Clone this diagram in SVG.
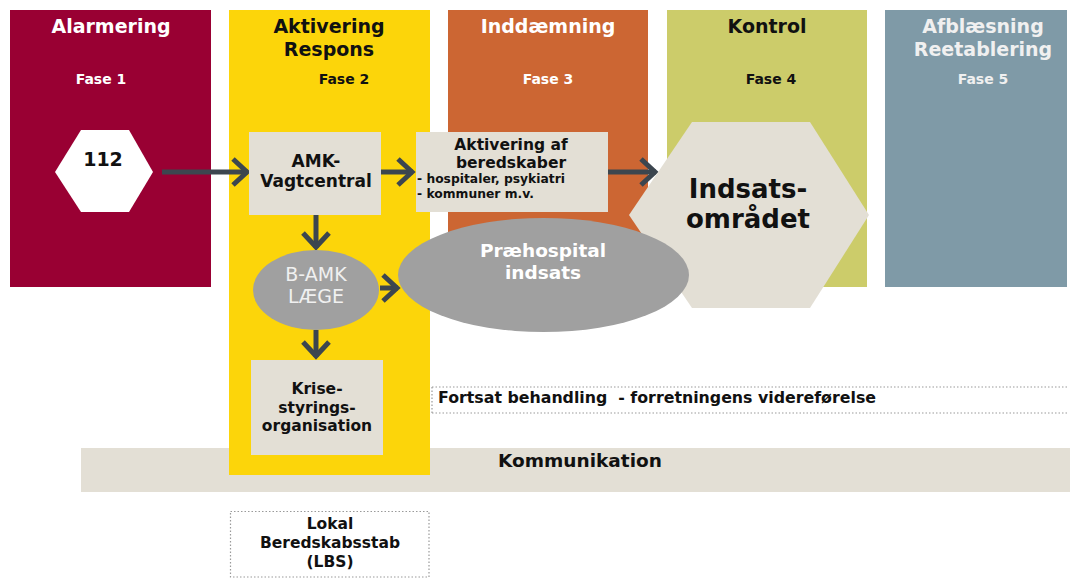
<svg xmlns="http://www.w3.org/2000/svg" width="1070" height="579" viewBox="0 0 1070 579">
  <defs>
    <style>
      text { font-family: "DejaVu Sans", Verdana, sans-serif; text-anchor: middle; }
      .b { font-weight: bold; }
      .w { fill: #ffffff; }
      .k { fill: #111111; }
      .lt { fill: #f0f0f0; }
      .box { fill: #e3dfd5; }
      .oval { fill: #a0a0a0; }
      .conn { stroke: #3c464f; stroke-width: 5; fill: none; marker-end: url(#chev); }
      .dot { stroke: #9a9a9a; stroke-width: 1.2; stroke-dasharray: 1.5 2; fill: none; }
    </style>
    <marker id="chev" markerUnits="userSpaceOnUse" markerWidth="26" markerHeight="34" refX="21" refY="17" orient="auto" viewBox="0 0 26 34">
      <path d="M6,4 L20,17 L6,30" fill="none" stroke="#3c464f" stroke-width="5"/>
    </marker>
  </defs>

  <!-- communication band behind the phase columns -->
  <g id="kommunikation">
    <rect x="81" y="448" width="989" height="44" class="box"/>
    <text x="580" y="467" class="b k" font-size="18.5">Kommunikation</text>
  </g>

  <!-- phase columns -->
  <g id="fase1">
    <rect x="10" y="10" width="201" height="277" fill="#990033"/>
    <text x="111" y="33" class="b w" font-size="19">Alarmering</text>
    <text x="101" y="84" class="b w" font-size="14">Fase 1</text>
  </g>
  <g id="fase2">
    <rect x="229" y="10" width="201" height="465" fill="#fcd50a"/>
    <text x="329" y="33" class="b k" font-size="19">Aktivering</text>
    <text x="329" y="56" class="b k" font-size="19">Respons</text>
    <text x="344" y="84" class="b k" font-size="14">Fase 2</text>
  </g>
  <g id="fase3">
    <rect x="448" y="10" width="200" height="277" fill="#cc6633"/>
    <text x="548" y="33" class="b w" font-size="19">Inddæmning</text>
    <text x="548" y="84" class="b w" font-size="14">Fase 3</text>
  </g>
  <g id="fase4">
    <rect x="667" y="10" width="200" height="277" fill="#cccc6a"/>
    <text x="767" y="33" class="b k" font-size="19">Kontrol</text>
    <text x="771" y="84" class="b k" font-size="14">Fase 4</text>
  </g>
  <g id="fase5">
    <rect x="885" y="10" width="182" height="277" fill="#7f9aa7"/>
    <text x="983" y="33" class="b lt" font-size="19">Afblæsning</text>
    <text x="983" y="56" class="b lt" font-size="19">Reetablering</text>
    <text x="983" y="84" class="b lt" font-size="14">Fase 5</text>
  </g>

  <!-- continued treatment strip -->
  <g id="fortsat">
    <path d="M432,387 H1068 M432,413 H1068 M432,387 V413" class="dot"/>
    <text x="438" y="403" class="b k" font-size="15.5" style="text-anchor:start; white-space:pre" textLength="438" lengthAdjust="spacingAndGlyphs">Fortsat behandling  - forretningens videreførelse</text>
  </g>

  <!-- connectors -->
  <g id="connectors">
    <line x1="162" y1="172" x2="248" y2="172" class="conn"/>
    <line x1="381" y1="172" x2="413" y2="172" class="conn"/>
    <line x1="608" y1="172" x2="656" y2="172" class="conn"/>
    <line x1="316" y1="215" x2="316" y2="248" class="conn"/>
    <line x1="380" y1="288" x2="398" y2="288" class="conn"/>
    <line x1="316" y1="330" x2="316" y2="357" class="conn"/>
  </g>

  <!-- nodes -->
  <g id="n112">
    <polygon points="55,172 81,130 129,130 153,172 129,212 81,212" fill="#ffffff"/>
    <text x="103" y="166" class="b k" font-size="19">112</text>
  </g>
  <g id="amk">
    <rect x="249" y="132" width="132" height="83" class="box"/>
    <text x="316" y="167" class="b k" font-size="17">AMK-</text>
    <text x="316" y="187" class="b k" font-size="17">Vagtcentral</text>
  </g>
  <g id="aktivering">
    <rect x="416" y="132" width="192" height="80" class="box"/>
    <text x="511" y="150" class="b k" font-size="15.5">Aktivering af</text>
    <text x="511" y="168" class="b k" font-size="15.5">beredskaber</text>
    <text x="417" y="183" class="b k" font-size="12.5" style="text-anchor:start" textLength="148" lengthAdjust="spacingAndGlyphs">- hospitaler, psykiatri</text>
    <text x="417" y="198" class="b k" font-size="12.5" style="text-anchor:start" textLength="117" lengthAdjust="spacingAndGlyphs">- kommuner m.v.</text>
  </g>
  <g id="indsats">
    <polygon points="629,215 692,122 810,122 869,215 810,308 692,308" class="box"/>
    <text x="748" y="198" class="b k" font-size="26">Indsats-</text>
    <text x="748" y="228" class="b k" font-size="26">området</text>
  </g>
  <g id="praehospital">
    <ellipse cx="543.5" cy="275" rx="145.5" ry="57" class="oval"/>
    <text x="543" y="257" class="b w" font-size="18.5">Præhospital</text>
    <text x="543" y="279" class="b w" font-size="18.5">indsats</text>
  </g>
  <g id="bamk">
    <ellipse cx="316" cy="290" rx="63" ry="40" class="oval"/>
    <text x="316" y="281" class="lt" font-size="19">B-AMK</text>
    <text x="316" y="303" class="lt" font-size="19">LÆGE</text>
  </g>
  <g id="krise">
    <rect x="251" y="360" width="132" height="95" class="box"/>
    <text x="317" y="394" class="b k" font-size="15.5">Krise-</text>
    <text x="317" y="413" class="b k" font-size="15.5">styrings-</text>
    <text x="317" y="431" class="b k" font-size="15.5">organisation</text>
  </g>
  <g id="lbs">
    <rect x="230.5" y="511.5" width="198.5" height="65.5" class="dot"/>
    <text x="330" y="529" class="b k" font-size="15.5">Lokal</text>
    <text x="330" y="548" class="b k" font-size="15.5">Beredskabsstab</text>
    <text x="330" y="567" class="b k" font-size="15.5">(LBS)</text>
  </g>
</svg>
